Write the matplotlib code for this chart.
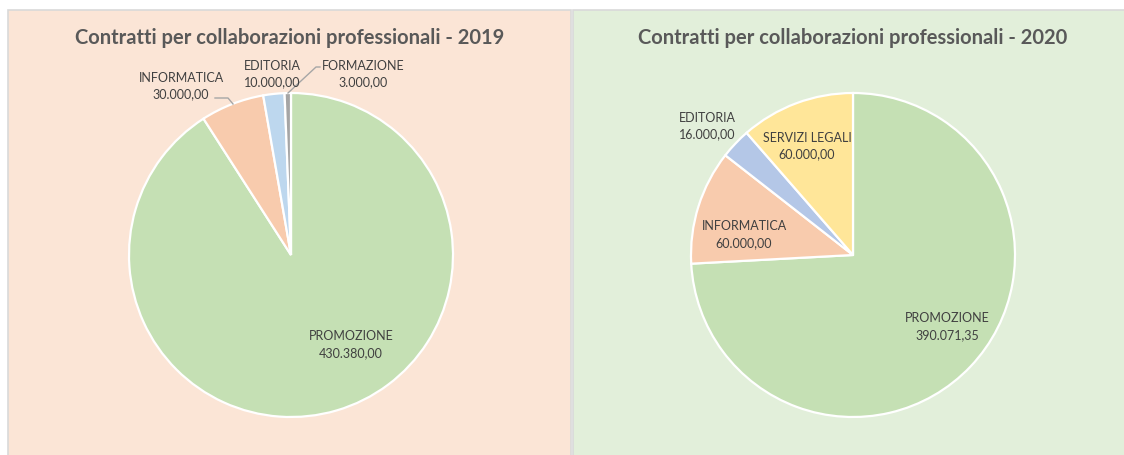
import matplotlib
matplotlib.use("Agg")
import matplotlib.pyplot as plt
from matplotlib.patches import Rectangle

plt.rcParams['font.family'] = ['Lato', 'DejaVu Sans']

# ---- data ----
titles = ["Contratti per collaborazioni professionali - 2019",
          "Contratti per collaborazioni professionali - 2020"]
cats_2019 = ["PROMOZIONE", "INFORMATICA", "EDITORIA", "FORMAZIONE"]
vals_2019 = [430380.00, 30000.00, 10000.00, 3000.00]
cats_2020 = ["PROMOZIONE", "INFORMATICA", "EDITORIA", "SERVIZI LEGALI"]
vals_2020 = [390071.35, 60000.00, 16000.00, 60000.00]

colors_2019 = ["#C5E0B4", "#F8CBAD", "#BDD7EE", "#A5A5A5"]
colors_2020 = ["#C5E0B4", "#F8CBAD", "#B4C7E7", "#FFE699"]


def fmt_it(v):
    s = f"{v:,.2f}"
    return s.replace(",", "X").replace(".", ",").replace("X", ".")


W, H = 1124, 456
fig = plt.figure(figsize=(W / 100, H / 100), dpi=100)
fig.patch.set_facecolor("white")
ax = fig.add_axes([0, 0, 1, 1])


def Y(y):  # pixel-from-top to data
    return H - y

# panels
ax.add_patch(Rectangle((8, Y(460)), 563, 449, facecolor="#FBE5D6",
                       edgecolor="#D9D9D9", lw=1.2, zorder=0))
ax.add_patch(Rectangle((573, Y(460)), 560, 449, facecolor="#E2EFDA",
                       edgecolor="#D9D9D9", lw=1.2, zorder=0))

txt = "#404040"
R = 162

# pies
centers = [(291, Y(256)), (853, Y(256))]
for c, vals, cols in [(centers[0], vals_2019, colors_2019),
                      (centers[1], vals_2020, colors_2020)]:
    ax.pie(vals, colors=cols, startangle=90, counterclock=False,
           center=c, radius=R, frame=True,
           wedgeprops=dict(edgecolor="white", linewidth=1.6))
ax.set_xlim(0, W)
ax.set_ylim(0, H)
ax.set_aspect("equal")
ax.axis("off")

# titles
ax.text(290, Y(38), titles[0], ha="center", va="center", fontsize=14.5,
        fontweight="bold", color="#595959")
ax.text(853, Y(38), titles[1], ha="center", va="center", fontsize=14.5,
        fontweight="bold", color="#595959")

# labels (pixel positions of label centres)
lab_pos_2019 = [(351, 345), (181, 86), (272, 74), (363, 74)]
lab_pos_2020 = [(947, 327), (744, 235), (707, 126), (807, 146)]
for cats, vals, poss in [(cats_2019, vals_2019, lab_pos_2019),
                         (cats_2020, vals_2020, lab_pos_2020)]:
    for name, v, (x, y) in zip(cats, vals, poss):
        ax.text(x, Y(y), f"{name}\n{fmt_it(v)}", ha="center", va="center",
                fontsize=9, color=txt, linespacing=1.5)

# leader lines
ax.plot([215, 228, 233], [Y(99), Y(99), Y(105)], color="#A6A6A6", lw=1)
ax.plot([320, 316, 288], [Y(68), Y(68), Y(94)], color="#A6A6A6", lw=1)

fig.savefig("out.png", dpi=100)
